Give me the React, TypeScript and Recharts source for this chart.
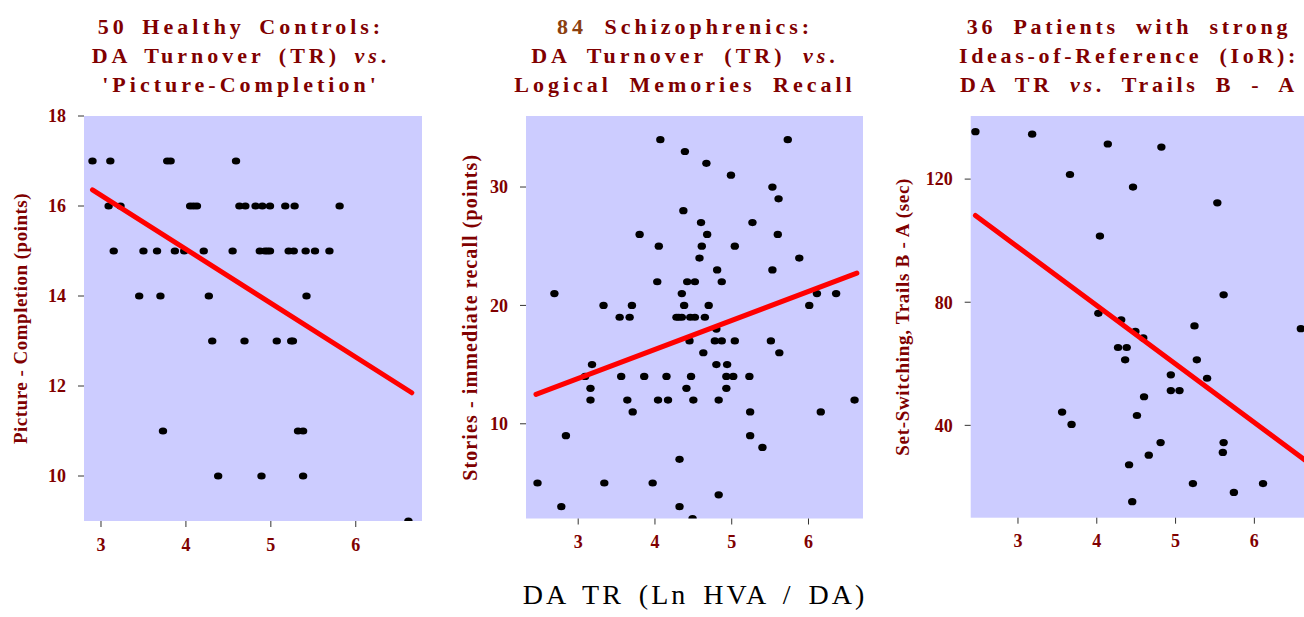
import React from "react";
import {
    ScatterChart, Scatter, XAxis, YAxis, CartesianGrid, ReferenceArea
} from "recharts";

// 50 healthy controls: DA turnover vs picture completion
const controlsTR = [
    2.90, 3.11, 3.78, 3.82, 4.59,
    3.09, 3.23, 4.05, 4.09, 4.13, 4.63, 4.70, 4.82, 4.90, 4.99, 5.17, 5.28, 5.81,
    3.15, 3.50, 3.66, 3.87, 3.98, 4.21, 4.55, 4.87, 4.93, 4.96, 4.99, 5.21, 5.27, 5.41, 5.52, 5.69,
    3.45, 3.70, 4.27, 5.42,
    4.31, 4.69, 5.07, 5.24, 5.26,
    3.73, 5.32, 5.38,
    4.38, 4.89, 5.38,
    6.62,
];
const controlsPicture = [
    17, 17, 17, 17, 17,
    16, 16, 16, 16, 16, 16, 16, 16, 16, 16, 16, 16, 16,
    15, 15, 15, 15, 15, 15, 15, 15, 15, 15, 15, 15, 15, 15, 15, 15,
    14, 14, 14, 14,
    13, 13, 13, 13, 13,
    11, 11, 11,
    10, 10, 10,
    9,
];
const controlsFitTR = [2.9, 6.66];
const controlsFitPicture = [16.36, 11.85];

// 84 schizophrenics: DA turnover vs logical memories recall
const schizTR = [
    4.07, 5.73, 4.39, 4.67, 4.99, 5.53, 5.61, 4.37, 4.60, 5.27,
    3.80, 4.68, 5.60, 4.05, 4.61, 5.04, 4.58, 5.88, 4.81, 5.53,
    4.03, 4.42, 4.52, 4.87, 2.69, 4.35, 6.11, 6.36,
    3.33, 3.70, 4.38, 4.70, 6.01,
    3.54, 3.67, 4.28, 4.31, 4.35, 4.46, 4.52, 4.65,
    4.80,
    4.45, 4.78, 4.87, 5.04, 5.51,
    4.63, 5.62,
    3.18, 4.80, 4.94,
    3.09, 3.56, 3.86, 4.15, 4.47, 4.93, 5.02, 5.23,
    3.16, 4.41, 4.93,
    3.16, 3.64, 4.04, 4.17, 4.50, 4.83, 6.60,
    3.71, 5.24, 6.16,
    2.84, 5.24, 5.40, 4.32,
    2.47, 3.34, 3.97, 4.83, 2.78, 4.32, 4.49,
];
const schizRecall = [
    34, 34, 33, 32, 31, 30, 29, 28, 27, 27,
    26, 26, 26, 25, 25, 25, 24, 24, 23, 23,
    22, 22, 22, 22, 21, 21, 21, 21,
    20, 20, 20, 20, 20,
    19, 19, 19, 19, 19, 19, 19, 19,
    18,
    17, 17, 17, 17, 17,
    16, 16,
    15, 15, 15,
    14, 14, 14, 14, 14, 14, 14, 14,
    13, 13, 13,
    12, 12, 12, 12, 12, 12, 12,
    11, 11, 11,
    9, 9, 8, 7,
    5, 5, 5, 4, 3, 3, 2,
];
const schizFitTR = [2.45, 6.63];
const schizFitRecall = [12.48, 22.73];

// 36 patients with strong ideas-of-reference: DA TR vs Trails B - A
const iorTR = [
    2.46, 3.18, 4.14, 4.82, 3.66, 4.46, 5.53, 4.04, 5.61, 4.02,
    4.31, 5.24, 6.59, 4.49, 4.59, 4.27, 4.38, 4.36, 5.27, 5.40,
    4.94, 4.94, 5.05, 4.60, 3.56, 4.51, 3.68, 4.81, 5.61, 5.60,
    4.66, 4.41, 5.22, 6.11, 5.74, 4.45,
];
const iorTrails = [
    135.4, 134.6, 131.4, 130.4, 121.5, 117.4, 112.3, 101.5, 82.4, 76.4,
    74.3, 72.3, 71.4, 70.5, 68.4, 65.3, 65.3, 61.3, 61.3, 55.3,
    56.4, 51.3, 51.3, 49.3, 44.3, 43.2, 40.3, 34.4, 34.4, 31.2,
    30.3, 27.2, 21.1, 21.1, 18.2, 15.2,
];
const iorFitTR = [2.46, 6.7];
const iorFitTrails = [108.2, 27.6];

const xTicks = [3, 4, 5, 6];
const controlsYTicks = [10, 12, 14, 16, 18];
const schizYTicks = [10, 20, 30];
const iorYTicks = [40, 80, 120];

const SERIF = '"Liberation Serif", "Times New Roman", serif';
const MAROON = "#800000";
const PLOT_BG = "#ccccff";

const toPoints = (xs: number[], ys: number[]) => xs.map((x, i) => ({ x, y: ys[i] }));

// eslint-disable-next-line @typescript-eslint/no-explicit-any
const Dot = (p: any) => <ellipse cx={p.cx} cy={p.cy} rx={4.2} ry={3.6} fill="#000" />;
const NoDot = () => <g />;

const tickStyle = { fontSize: 18, fill: MAROON, fontWeight: 700, fontFamily: SERIF };

// eslint-disable-next-line @typescript-eslint/no-explicit-any
function Panel({ left, width, yAxisWidth, marginRight, xAxisHeight, xDomain, yDomain, yTicks, label, labelOffset, labelSize, labelSpacing, points, fit }: any) {
    return (
        <div style={{ position: "absolute", left, top: 0 }}>
            <ScatterChart
                width={width}
                height={560}
                margin={{ top: 116, right: marginRight, bottom: 0, left: 0 }}
            >
                <CartesianGrid fill={PLOT_BG} fillOpacity={1} stroke="none" />
                <XAxis
                    type="number"
                    dataKey="x"
                    domain={xDomain}
                    ticks={xTicks}
                    allowDataOverflow
                    height={xAxisHeight}
                    axisLine={false}
                    tickSize={6}
                    tickMargin={11}
                    tickLine={{ stroke: "#333" }}
                    tick={tickStyle}
                />
                <YAxis
                    type="number"
                    dataKey="y"
                    domain={yDomain}
                    ticks={yTicks}
                    allowDataOverflow
                    width={yAxisWidth}
                    axisLine={false}
                    tickSize={6}
                    tickMargin={12}
                    tickLine={{ stroke: "#333" }}
                    tick={tickStyle}
                    label={{
                        value: label,
                        angle: -90,
                        position: "insideLeft",
                        offset: labelOffset,
                        style: {
                            textAnchor: "middle", fontSize: labelSize, fill: MAROON, fontWeight: 700,
                            fontFamily: SERIF, letterSpacing: labelSpacing,
                        },
                    }}
                />
                <ReferenceArea fill="none" stroke="#222" strokeWidth={1.5} ifOverflow="visible" />
                <Scatter data={points} shape={Dot} isAnimationActive={false} />
                <Scatter
                    data={fit}
                    shape={NoDot}
                    line={{ stroke: "#ff0000", strokeWidth: 5, strokeLinecap: "round" }}
                    isAnimationActive={false}
                />
            </ScatterChart>
        </div>
    );
}

const titleStyle: React.CSSProperties = {
    position: "absolute",
    top: 12,
    width: 500,
    textAlign: "center",
    fontFamily: SERIF,
    fontWeight: 700,
    fontSize: 22,
    lineHeight: "29px",
    letterSpacing: 4,
    wordSpacing: 5,
    color: MAROON,
    whiteSpace: "nowrap",
};

export default function App() {
    return (
        <div style={{ position: "absolute", left: 0, top: 0, width: 1304, height: 617, overflow: "hidden", background: "#fff" }}>
            <div style={{ ...titleStyle, left: 241 - 250 }}>
                50 Healthy Controls:<br />
                DA Turnover (TR) <i>vs</i>.<br />
                'Picture-Completion'
            </div>
            <div style={{ ...titleStyle, left: 685 - 250, wordSpacing: 8 }}>
                <span style={{ color: "#8b4010" }}>84</span> Schizophrenics:<br />
                DA Turnover (TR) <i>vs</i>.<br />
                Logical Memories Recall
            </div>
            <div style={{ ...titleStyle, left: 1129 - 250, letterSpacing: 3.7, wordSpacing: 8 }}>
                36 Patients with strong<br />
                Ideas-of-Reference (IoR):<br />
                DA TR <i>vs</i>. Trails B - A
            </div>

            <Panel
                left={0}
                width={440}
                yAxisWidth={84}
                marginRight={18}
                xAxisHeight={39}
                xDomain={[2.8, 6.78]}
                yDomain={[9, 18]}
                yTicks={controlsYTicks}
                label="Picture - Completion  (points)"
                labelOffset={20}
                labelSize={19}
                labelSpacing={0.5}
                points={toPoints(controlsTR, controlsPicture)}
                fit={toPoints(controlsFitTR, controlsFitPicture)}
            />
            <Panel
                left={440}
                width={440}
                yAxisWidth={86}
                marginRight={17}
                xAxisHeight={41.5}
                xDomain={[2.32, 6.71]}
                yDomain={[2, 36]}
                yTicks={schizYTicks}
                label="Stories - immediate recall (points)"
                labelOffset={30}
                labelSize={20}
                labelSpacing={1.1}
                points={toPoints(schizTR, schizRecall)}
                fit={toPoints(schizFitTR, schizFitRecall)}
            />
            <Panel
                left={880}
                width={460}
                yAxisWidth={90.7}
                marginRight={22.6}
                xAxisHeight={42.3}
                xDomain={[2.4, 6.8]}
                yDomain={[10, 140.5]}
                yTicks={iorYTicks}
                label="Set-Switching,  Trails B - A (sec)"
                labelOffset={22}
                labelSize={19}
                labelSpacing={0.7}
                points={toPoints(iorTR, iorTrails)}
                fit={toPoints(iorFitTR, iorFitTrails)}
            />

            <div style={{
                position: "absolute", left: 695 - 250, top: 579, width: 500, textAlign: "center",
                fontFamily: SERIF, fontSize: 28, color: "#000", letterSpacing: 3, wordSpacing: 5, whiteSpace: "nowrap",
            }}>
                DA TR (Ln HVA / DA)
            </div>
        </div>
    );
}
